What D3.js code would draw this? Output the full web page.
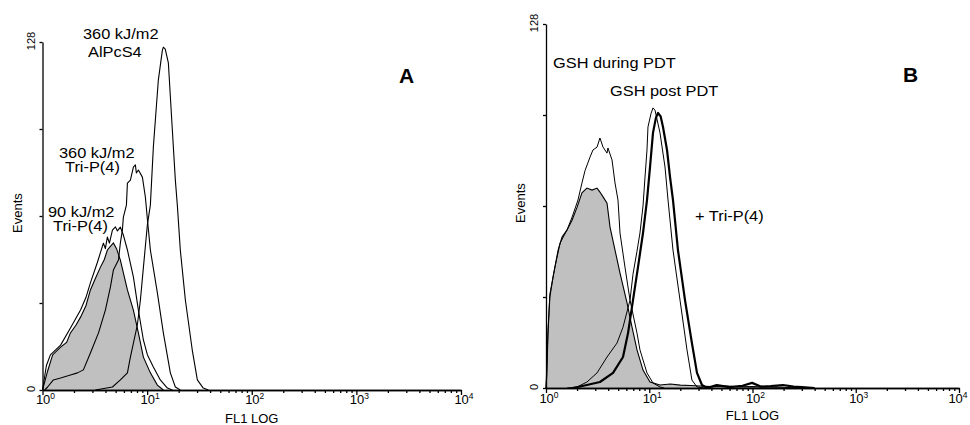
<!DOCTYPE html>
<html>
<head>
<meta charset="utf-8">
<script src="https://cdn.jsdelivr.net/npm/d3@7"></script>
<style>
  html, body { margin: 0; padding: 0; background: #fff; }
  svg { display: block; }
  text { font-family: "Liberation Sans", Arial, sans-serif; fill: #000; }
</style>
</head>
<body>
<svg id="chart" width="970" height="425"></svg>
<script>
// ---------------- DATA ----------------
const decadeExponents = [0, 1, 2, 3, 4];
const yTickValues = [0, 32, 64, 96, 128];
const yTickLabels = ["0", "128"];
const xAxisTitle = "FL1 LOG";
const yAxisTitle = "Events";
const panelLetters = ["A", "B"];

// Panel A: control (grey filled)
const aControlFL    = [1.0, 1.12, 1.25, 1.49, 1.7, 1.85, 2.1, 2.31, 2.6, 2.87, 3.2, 3.58, 3.9, 4.17, 4.5, 4.76, 5.1, 5.55, 6.48, 7.39, 8.25, 9.21, 10.74, 12.53, 14.29];
const aControlCount = [0, 7, 12.9, 15.8, 17.5, 21, 24, 26.8, 31, 36.8, 41, 45.2, 48, 51.5, 53, 54.1, 52, 47.8, 36.8, 29.4, 21, 12.1, 6.3, 1.8, 0];
// Panel A: 90 kJ/m2 Tri-P(4)
const a90FL    = [1.0, 1.09, 1.19, 1.49, 1.85, 2.31, 2.6, 2.87, 3.35, 3.82, 3.99, 4.17, 4.36, 4.66, 4.98, 5.2, 5.55, 5.93, 6.48, 7.39, 8.25, 9.21, 10.05, 11.47, 13.37, 15.61, 17.42];
const a90Count = [0, 9, 12.9, 16.5, 22.8, 29.4, 34, 39.4, 47, 54, 52, 56.3, 54, 58.8, 60, 58.5, 59.9, 57, 51.5, 41.6, 29.4, 18.4, 13, 8.5, 3.7, 0.7, 0];
// Panel A: 360 kJ/m2 Tri-P(4)
const a360TriFL    = [1.05, 1.12, 1.27, 1.49, 1.85, 2.16, 2.46, 2.87, 3.43, 3.99, 4.46, 4.76, 5.32, 5.55, 5.8, 5.93, 6.34, 6.48, 6.92, 7.39, 7.72, 7.89, 8.25, 9.01, 9.62, 10.05, 10.74, 12.53, 14.29, 16.67, 18.61, 20.76];
const a360TriCount = [0, 1.1, 3.7, 4.4, 5.5, 6.3, 7.4, 13.6, 21, 29.4, 37.9, 44.1, 47.8, 54.1, 58.8, 63.6, 68, 76.1, 77.2, 82, 82.8, 79.8, 80.9, 78.3, 71, 63, 51.5, 35.7, 21, 6.3, 1.1, 0];
// Panel A: 360 kJ/m2 AlPcS4
const a360AlFL    = [3.2, 4.66, 5.55, 6.48, 6.92, 8.07, 8.62, 9.21, 10.05, 10.74, 11.47, 12.8, 13.99, 14.29, 14.9, 15.96, 17.42, 18.61, 19.44, 20.76, 23.2, 27.0, 30.2, 34.4, 38.5];
const a360AlCount = [0, 1.1, 3.7, 6.3, 12.1, 24, 33, 45, 60.7, 68, 89.4, 114, 125, 126.1, 125.4, 120.3, 95.6, 77.2, 68, 51.5, 33.1, 14.7, 3.7, 0.7, 0];

// Panel B: control (grey filled)
const bControlFL    = [1.0, 1.02, 1.045, 1.09, 1.17, 1.31, 1.43, 1.6, 1.79, 2.0, 2.23, 2.49, 2.79, 3.12, 3.33, 3.57, 3.9, 4.17, 4.66, 5.21, 6.09, 6.81, 7.61, 8.7, 10.17, 12.71, 16, 20, 25, 31, 40, 55, 75, 100, 130, 170, 220, 300];
const bControlCount = [0, 5, 19.3, 32, 39, 48.5, 53.1, 55.6, 59.1, 63.6, 68.6, 70.3, 69.6, 70.3, 68.9, 67.2, 65, 56.6, 48.5, 40.4, 29.9, 21.4, 13.4, 6.3, 2.1, 1.05, 1.4, 1.0, 0.9, 0.7, 0.5, 0.7, 0.4, 0.5, 0.3, 0.4, 0.2, 0];
// Panel B: GSH during PDT
const bDuringFL    = [1.0, 1.045, 1.09, 1.22, 1.37, 1.6, 1.79, 2.04, 2.23, 2.39, 2.67, 2.85, 3.12, 3.33, 3.57, 3.9, 3.98, 4.36, 4.66, 4.98, 5.21, 5.82, 6.51, 7.61, 8.13, 9.51, 10.87, 12.71, 14];
const bDuringCount = [0, 20, 33, 42.5, 51, 55.6, 60.1, 66.1, 72.1, 76.5, 81.2, 83.7, 84.7, 87.9, 84.7, 82.6, 84.4, 80.2, 72.1, 66.1, 54.5, 42.5, 30.9, 19.3, 13.4, 5.3, 1.76, 0.35, 0];
// Panel B: GSH post PDT
const bPostFL    = [1.6, 2.0, 2.49, 3.12, 3.9, 4.87, 5.57, 6.51, 6.96, 7.6, 8.13, 8.7, 9.1, 9.51, 9.72, 10.4, 10.87, 11.37, 12.71, 14.21, 15.2, 16.98, 19.86, 23.2, 25.9, 29.0, 34.5];
const bPostCount = [0, 0.35, 2.1, 5.3, 10.9, 15.8, 21.4, 30.9, 40, 48, 54.5, 64, 74.2, 83.7, 91.8, 96.5, 98.5, 97.7, 89.7, 77.7, 66.1, 48.5, 30.9, 13.4, 2.8, 0.35, 0];
// Panel B: + Tri-P(4) (thick)
const bTriFL    = [1.83, 2.49, 3.33, 4.46, 5.57, 6.23, 6.96, 7.78, 8.7, 9.51, 10.17, 10.87, 11.6, 12.16, 12.9, 13.59, 14.86, 15.89, 16.98, 18.97, 22.2, 25.9, 29.0, 32.4, 36.2, 45, 60, 80, 99, 120, 150, 197, 250, 300, 400];
const bTriCount = [0, 1.05, 2.1, 5.3, 10.9, 19.3, 30.9, 42.5, 54.5, 66.1, 77.7, 89.7, 95, 96.7, 95.5, 91.8, 83.7, 74.2, 66.1, 48.5, 30.9, 15.8, 5.3, 1.05, 0, 1.0, 0.3, 0.8, 1.8, 0.5, 0.7, 1.05, 0.5, 0.3, 0];

// Annotations
const aLabels = [["360 kJ/m2", 83, 39], ["AlPcS4", 88, 57], ["360 kJ/m2", 59, 158], ["Tri-P(4)", 65, 172], ["90 kJ/m2", 48, 217], ["Tri-P(4)", 53, 231]];
const bLabels = [["GSH during PDT", 553, 68], ["GSH post PDT", 610, 96], ["+ Tri-P(4)", 695, 221]];

// ---------------- DRAW ----------------
const svg = d3.select("#chart");
const zip = (xs, ys) => xs.map((v, i) => [v, ys[i]]);

function drawPanel(cfg) {
  const g = svg.append("g");
  const x = d3.scaleLog().domain([1, 1e4]).range(cfg.xr);
  const y = d3.scaleLinear().domain([0, 128]).range(cfg.yr);

  const area = d3.area().x(d => x(d[0])).y0(y(0)).y1(d => y(d[1]));
  const line = d3.line().x(d => x(d[0])).y(d => y(d[1]));
  g.append("path").datum(zip(cfg.fill[0], cfg.fill[1]))
    .attr("d", area).attr("fill", "#c0c0c0").attr("stroke", "none");
  g.append("path").datum(zip(cfg.fill[0], cfg.fill[1]))
    .attr("d", line).attr("fill", "none").attr("stroke", "#000").attr("stroke-width", 1.1);
  cfg.lines.forEach(l => {
    g.append("path").datum(zip(l[0], l[1]))
      .attr("d", line).attr("fill", "none").attr("stroke", "#000")
      .attr("stroke-width", l[2]).attr("stroke-linejoin", "round");
  });

  // x axis with log minor ticks
  const minor = [];
  decadeExponents.slice(0, -1).forEach(e => { for (let m = 2; m <= 9; m++) minor.push(m * Math.pow(10, e)); });
  const majors = decadeExponents.map(e => Math.pow(10, e));
  const xg = g.append("g").attr("transform", `translate(0,${y(0)})`);
  xg.call(d3.axisBottom(x).tickValues(minor).tickSize(3).tickFormat("").tickSizeOuter(0));
  xg.append("g").call(d3.axisBottom(x).tickValues(majors).tickSize(5).tickFormat("").tickSizeOuter(0));
  xg.selectAll("path,line").attr("stroke", "#000").attr("stroke-width", 1.3);
  decadeExponents.forEach((e, i) => {
    const last = i === decadeExponents.length - 1;
    const t = xg.append("text").attr("x", x(Math.pow(10, e)) + (last ? cfg.lastShift : 3)).attr("y", cfg.tickLabelY)
      .attr("text-anchor", "middle").style("font-size", "13px");
    t.append("tspan").text("10");
    t.append("tspan").attr("dy", -5).style("font-size", "8.5px").text(String(e));
  });

  // y axis
  const yg = g.append("g").attr("transform", `translate(${x(1)},0)`);
  yg.call(d3.axisLeft(y).tickValues(yTickValues).tickSize(3).tickFormat("").tickSizeOuter(0));
  yg.selectAll("path,line").attr("stroke", "#000").attr("stroke-width", 1.3);
  [[0, yTickLabels[0]], [128, yTickLabels[1]]].forEach(([v, s]) => {
    g.append("text").attr("transform", `translate(${x(1) - 8},${y(v) - 1}) rotate(-90)`)
      .attr("text-anchor", "middle").style("font-size", "11px").text(s);
  });

  // titles
  g.append("text").attr("x", x(100)).attr("y", cfg.xTitleY).attr("text-anchor", "middle")
    .style("font-size", "13px").text(xAxisTitle);
  g.append("text").attr("transform", `translate(${cfg.yTitle[0]},${cfg.yTitle[1]}) rotate(-90)`)
    .attr("text-anchor", "middle").style("font-size", "13px").text(yAxisTitle);

  // annotations
  cfg.labels.forEach(([s, lx, ly]) => {
    g.append("text").attr("transform", `translate(${lx},${ly}) scale(1.17,1)`)
      .style("font-size", "14px").text(s);
  });
  g.append("text").attr("x", cfg.letter[1]).attr("y", cfg.letter[2])
    .style("font-size", "21px").style("font-weight", "bold").text(cfg.letter[0]);
}

drawPanel({
  xr: [42.5, 461], yr: [390, 42],
  fill: [aControlFL, aControlCount],
  lines: [[a90FL, a90Count, 1.1], [a360TriFL, a360TriCount, 1.1], [a360AlFL, a360AlCount, 1.1]],
  tickLabelY: 14, xTitleY: 423, yTitle: [22, 213], lastShift: 3,
  labels: aLabels, letter: [panelLetters[0], 399, 83]
});
drawPanel({
  xr: [546, 959], yr: [388, 24],
  fill: [bControlFL, bControlCount],
  lines: [[bDuringFL, bDuringCount, 1.0], [bPostFL, bPostCount, 1.0], [bTriFL, bTriCount, 2.2]],
  tickLabelY: 15, xTitleY: 420, yTitle: [525, 203], lastShift: -1,
  labels: bLabels, letter: [panelLetters[1], 903, 82]
});
</script>
</body>
</html>
